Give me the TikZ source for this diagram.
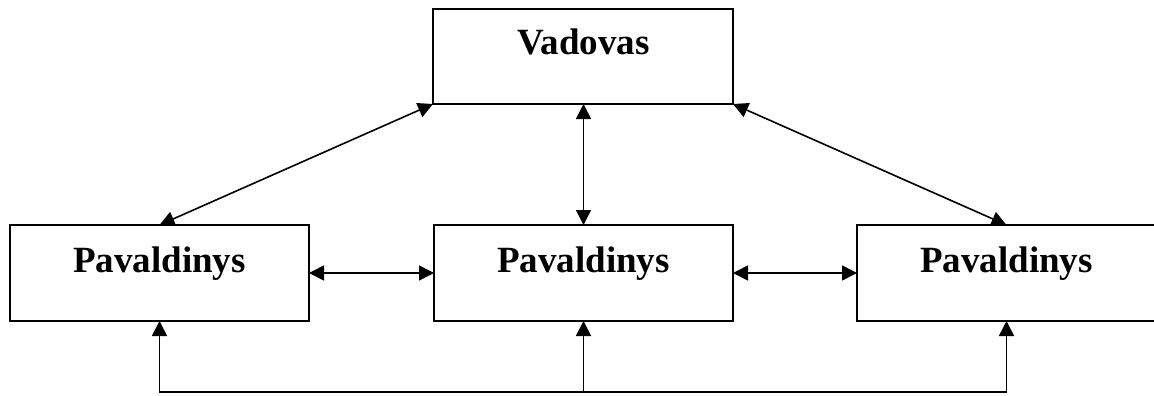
\documentclass[tikz,border=0pt]{standalone}
\usepackage{fontspec}
\setmainfont{Liberation Serif}
\usetikzlibrary{arrows.meta}
\begin{document}
\begin{tikzpicture}[x=1pt,y=-1pt,
  box/.style={draw=black, line width=1.6pt, rectangle, inner sep=0pt, outer sep=0pt, minimum height=96pt, minimum width=299pt},
  lbl/.style={anchor=base, inner sep=0pt, font=\fontsize{37}{44}\selectfont\bfseries},
  conn/.style={line width=1.6pt, {Triangle[length=15pt,width=15pt]}-{Triangle[length=15pt,width=15pt]}},
  conn1/.style={line width=1.6pt, -{Triangle[length=15pt,width=15pt]}}]
\useasboundingbox (0,0) rectangle (1154,396);
\begin{scope}
\clip (0,0) rectangle (1154,396);
\node[box, minimum width=300pt, minimum height=95pt] (v) at (583,56.5) {};
\node[box] (l) at (159.5,273) {};
\node[box] (m) at (583.5,273) {};
\node[box] (r) at (1006.5,273) {};
\end{scope}
\node[lbl] (tv) at (583.5,55) {Vadovas};
\node[lbl] (tl) at (159.5,272) {Pavaldinys};
\node[lbl] (tm) at (583.5,272) {Pavaldinys};
\node[lbl] (tr) at (1006.5,272) {Pavaldinys};
\coordinate (bl) at (159.5,392);
\coordinate (bm) at (583.5,392);
\coordinate (br) at (1006.5,392);
\draw[conn] (v.south west) -- (l.north);
\draw[conn] (v.south east) -- (r.north);
\draw[conn] (v.south -| m.north) -- (m.north);
\draw[conn] (l.east) -- (m.west);
\draw[conn] (m.east) -- (r.west);
\draw[conn, line join=miter] (l.south) -- (bl) -- (br) -- (r.south);
\draw[conn1] (bm) -- (m.south);
\end{tikzpicture}
\end{document}
